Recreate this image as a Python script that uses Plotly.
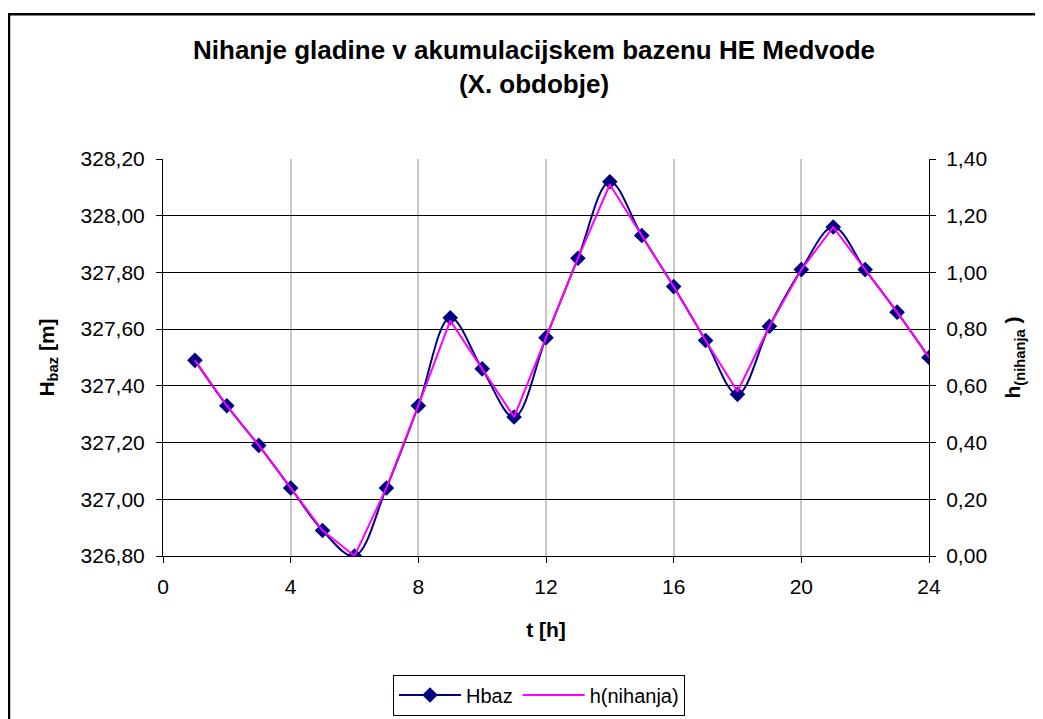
import plotly.graph_objects as go

t_hours = list(range(1, 25))
hbaz = [327.49, 327.33, 327.19, 327.04, 326.89, 326.80, 327.04, 327.33, 327.64, 327.46,
        327.29, 327.57, 327.85, 328.12, 327.93, 327.75, 327.56, 327.37, 327.61, 327.81,
        327.96, 327.81, 327.66, 327.50]
h_nihanja = [0.69, 0.53, 0.39, 0.24, 0.09, 0.00, 0.24, 0.53, 0.83, 0.66,
             0.49, 0.77, 1.05, 1.31, 1.13, 0.95, 0.76, 0.58, 0.81, 1.01,
             1.16, 1.01, 0.86, 0.70]

FONT = "Liberation Sans, Arial, sans-serif"

fig = go.Figure()
fig.add_trace(go.Scatter(
    x=t_hours, y=hbaz, name="Hbaz", mode="lines+markers",
    line=dict(color="#000080", width=2, shape="spline", smoothing=1.0),
    marker=dict(symbol="diamond", size=12, color="#000080"),
    yaxis="y"))
fig.add_trace(go.Scatter(
    x=t_hours, y=h_nihanja, name="h(nihanja)", mode="lines",
    line=dict(color="#FF00FF", width=2),
    yaxis="y2"))

OFF = 8  # page body margin
W, H = 1043 - OFF, 719
# plot area in page pixels: left 163, right 929, top 159, bottom ~560
L, T = 163 - OFF, 159 - OFF
R = W - (929 - OFF)
B = H - (561 - OFF)
pw, ph = W - L - R, H - T - B

def px_x(p):
    return (p - OFF - L) / pw

def px_y(p):
    return (H - B - (p - OFF)) / ph

fig.update_layout(
    width=W, height=H, autosize=False,
    margin=dict(l=L, r=R, t=T, b=B),
    paper_bgcolor="white", plot_bgcolor="white",
    separators=",.",
    font=dict(family=FONT, size=20, color="black"),
    title=dict(
        text="<b>Nihanje gladine v akumulacijskem bazenu HE Medvode<br>(X. obdobje)</b>",
        x=(534 - OFF) / W, xanchor="center", xref="container",
        y=1 - 51 / H, yanchor="top", yref="container",
        font=dict(family=FONT, size=26, color="black")),
    xaxis=dict(
        range=[0, 24], tick0=0, dtick=4, tickmode="linear",
        automargin=False,
        showgrid=True, gridcolor="#c8c8c8", gridwidth=1.5,
        showline=True, linecolor="black", linewidth=1,
        ticks="outside", ticklen=6, tickcolor="black",
        ticklabelstandoff=6,
        zeroline=False,
        tickfont=dict(size=21),
        title=dict(text="<b>t [h]</b>", standoff=25, font=dict(size=21))),
    yaxis=dict(
        range=[326.8, 328.2], tick0=326.8, dtick=0.2, tickmode="linear",
        tickformat=".2f", automargin=False,
        showgrid=True, gridcolor="black", gridwidth=1,
        showline=True, linecolor="black", linewidth=1,
        ticks="outside", ticklen=6, tickcolor="black",
        ticklabelstandoff=7,
        zeroline=False,
        tickfont=dict(size=21),
        title=dict(text="<b>H<sub>baz</sub> [m]</b>", standoff=20, font=dict(size=21))),
    yaxis2=dict(
        range=[0, 1.4], tick0=0, dtick=0.2, tickmode="linear",
        tickformat=".2f", overlaying="y", side="right", automargin=False,
        showgrid=False,
        showline=True, linecolor="black", linewidth=1,
        ticks="outside", ticklen=6, tickcolor="black",
        ticklabelstandoff=6,
        zeroline=False,
        tickfont=dict(size=21),
        title=dict(text="<b>h<sub>(nihanja</sub> )</b>", standoff=19, font=dict(size=21))),
    legend=dict(
        orientation="h", x=px_x(393), xanchor="left", y=px_y(681), yanchor="top",
        bordercolor="black", borderwidth=1, bgcolor="white",
        itemwidth=62,
        font=dict(family=FONT, size=20)),
    showlegend=True,
    shapes=[dict(
        type="rect", xref="paper", yref="paper",
        x0=px_x(9), x1=px_x(1090), y0=px_y(760), y1=px_y(12.5),
        line=dict(color="black", width=2.5), fillcolor="rgba(0,0,0,0)", layer="below")],
)

fig.write_html("out.html")
